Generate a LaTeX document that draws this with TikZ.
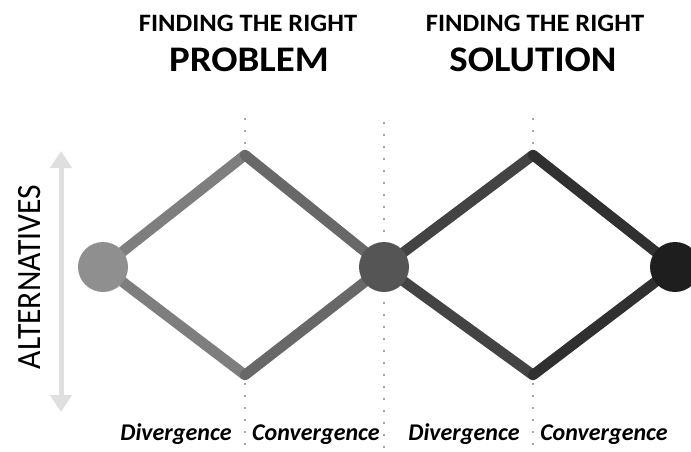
\documentclass[tikz,border=0pt]{standalone}
\usepackage{fontspec}
\setmainfont{Carlito}
\usetikzlibrary{arrows.meta,backgrounds}
\tikzset{
  stage/.style={circle,minimum size=50pt,inner sep=0pt},
  path/.style={line width=10.5pt,line cap=round,line join=round},
  guide/.style={draw=gray!70,line width=1.6pt,dash pattern=on 1.6pt off 10.4pt},
  heading/.style={font=\bfseries\fontsize{25}{25}\selectfont,xscale=1.06},
  bigheading/.style={font=\bfseries\fontsize{36}{36}\selectfont,xscale=1.08},
  phase/.style={font=\bfseries\itshape\fontsize{24}{24}\selectfont,anchor=base},
  axislabel/.style={font=\fontsize{34}{34}\selectfont,rotate=90}
}
\definecolor{shadeA}{HTML}{8F8F8F}
\definecolor{shadeB}{HTML}{7E7E7E}
\definecolor{shadeC}{HTML}{686868}
\definecolor{shadeD}{HTML}{555555}
\definecolor{shadeE}{HTML}{434343}
\definecolor{shadeF}{HTML}{303030}
\definecolor{shadeG}{HTML}{1E1E1E}

\begin{document}
\begin{tikzpicture}[x=1pt,y=-1pt]
  \useasboundingbox (0,0) rectangle (691,451);

  % headings
  \node[heading] (findleft) at (248,23) {FINDING THE RIGHT};
  \node[bigheading] (problem) at (249,60) {PROBLEM};
  \node[heading] (findright) at (535,23) {FINDING THE RIGHT};
  \node[bigheading] (solution) at (533,60) {SOLUTION};

  % stages and peaks
  \node[stage,fill=shadeA] (start) at (103,267) {};
  \node[stage,fill=shadeD] (mid) at (384,267) {};
  \node[stage,fill=shadeG] (finish) at (675,267) {};
  \coordinate (ptop1) at (245,155);
  \coordinate (pbot1) at (245,375);
  \coordinate (ptop2) at (533,155);
  \coordinate (pbot2) at (533,375);

  \begin{scope}[on background layer]
    \draw[path,shadeB] (start.center) -- (ptop1);
    \draw[path,shadeB] (start.center) -- (pbot1);
    \draw[path,shadeC] (ptop1) -- (mid.center);
    \draw[path,shadeC] (pbot1) -- (mid.center);
    \draw[path,shadeE] (mid.center) -- (ptop2);
    \draw[path,shadeE] (mid.center) -- (pbot2);
    \draw[path,shadeF] (ptop2) -- (finish.center);
    \draw[path,shadeF] (pbot2) -- (finish.center);

    % dotted guides
    \draw[guide] (ptop1) ++(0,-37) -- ++(0,32);
    \draw[guide] (pbot1) ++(0,8) -- ++(0,70);
    \draw[guide] (mid.center) ++(0,-145) -- ++(0,330);
    \draw[guide] (ptop2) ++(0,-37) -- ++(0,32);
    \draw[guide] (pbot2) ++(0,8) -- ++(0,70);
  \end{scope}

  % alternatives axis
  \coordinate (axtop) at (61,151);
  \coordinate (axbot) at (61,412);
  \draw[gray!25,line width=5pt,{Triangle[width=21pt,length=17pt]}-{Triangle[width=21pt,length=17pt]}] (axtop) -- (axbot);
  \node[axislabel,xscale=0.93] (alts) at (30,277) {ALTERNATIVES};

  % phases
  \node[phase] (div1) at (176,440) {Divergence};
  \node[phase] (conv1) at (316,440) {Convergence};
  \node[phase] (div2) at (464,440) {Divergence};
  \node[phase] (conv2) at (604,440) {Convergence};
\end{tikzpicture}
\end{document}
